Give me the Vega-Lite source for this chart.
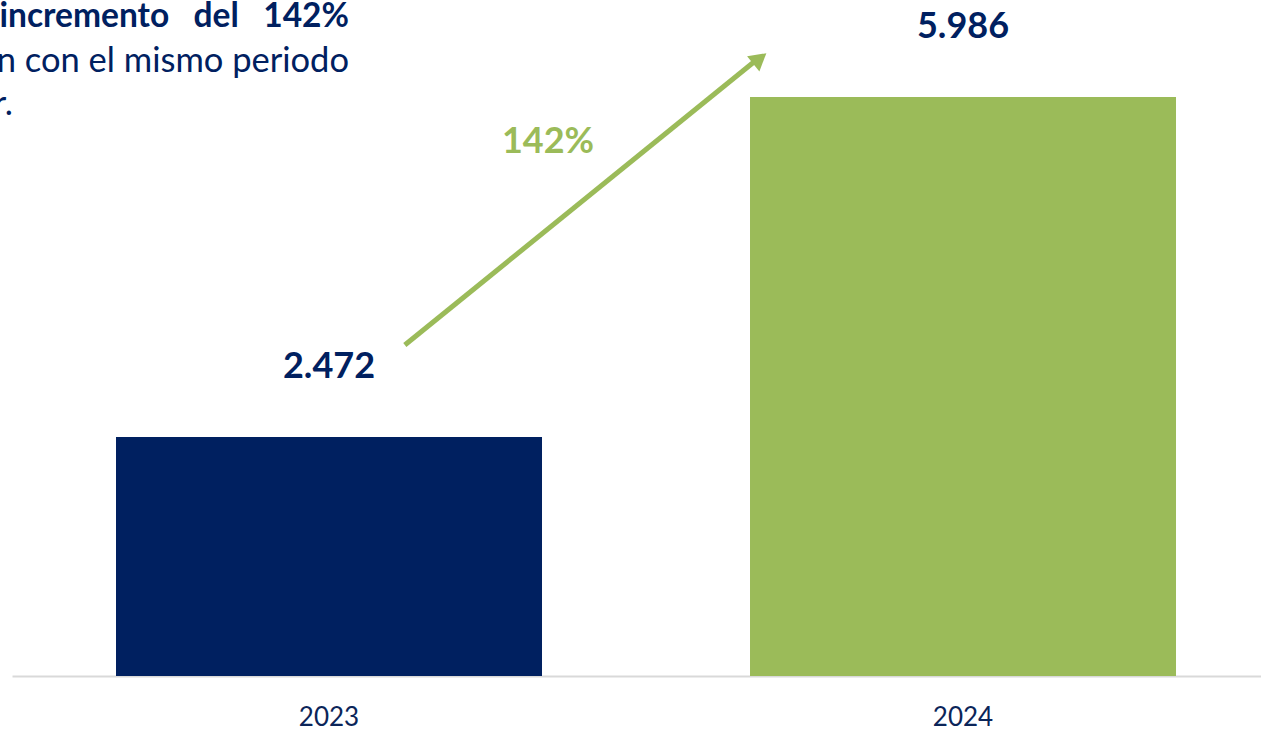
{
  "$schema": "https://vega.github.io/schema/vega-lite/v6.json",
  "width": 1249,
  "height": 676,
  "autosize": {"type": "none"},
  "padding": {"left": 12, "top": 0, "right": 0, "bottom": 54},
  "background": "white",
  "config": {"view": {"stroke": null}, "font": "Lato"},
  "datasets": {
    "bars": [
      {"year": "2023", "value": 2472, "label": "2.472"},
      {"year": "2024", "value": 5986, "label": "5.986"}
    ],
    "arrow": [{"year": "2023", "year2": "2024", "y": 3423, "y2": 6359}],
    "head": [{"year": "2024", "y": 6385}],
    "growth": [{"year": "2023", "y": 5408, "label": "142%"}],
    "line1": [{"year": "2023", "y": 6711, "label": "incremento\u00a0\u00a0\u00a0del\u00a0\u00a0\u00a0142%"}],
    "line2": [{"year": "2023", "y": 6245, "label": "comparación con el mismo periodo"}],
    "line3": [{"year": "2023", "y": 5801, "label": "del año anterior."}]
  },
  "layer": [
    {
      "data": {"name": "bars"},
      "mark": {"type": "bar"},
      "encoding": {
        "x": {
          "field": "year", "type": "nominal", "title": null,
          "scale": {"domain": ["2023", "2024"], "paddingInner": 0.32808, "paddingOuter": 0.14905, "align": 0.5503},
          "axis": {"labelAngle": 0, "labelFont": "Lato", "labelFontSize": 26, "labelColor": "#0B2559", "labelPadding": 28, "labelBaseline": "top", "ticks": false, "domainColor": "#D9D9D9", "domainWidth": 2, "grid": false}
        },
        "y": {"field": "value", "type": "quantitative", "scale": {"domain": [0, 6990], "nice": false}, "axis": null},
        "color": {"field": "year", "type": "nominal", "scale": {"domain": ["2023", "2024"], "range": ["#002060", "#9BBB59"]}, "legend": null}
      }
    },
    {
      "data": {"name": "bars"},
      "mark": {"type": "text", "font": "Lato", "fontSize": 36, "fontWeight": "bold", "color": "#002060", "baseline": "alphabetic", "align": "center", "dy": -59},
      "encoding": {
        "x": {"field": "year", "type": "nominal", "title": null},
        "y": {"field": "value", "type": "quantitative", "axis": null},
        "text": {"field": "label"}
      }
    },
    {
      "data": {"name": "arrow"},
      "mark": {"type": "rule", "color": "#9BBB59", "strokeWidth": 5},
      "encoding": {
        "x": {"field": "year", "type": "nominal", "bandPosition": 0.678, "title": null},
        "x2": {"field": "year2", "bandPosition": 0.012},
        "y": {"field": "y", "type": "quantitative", "axis": null},
        "y2": {"field": "y2"}
      }
    },
    {
      "data": {"name": "head"},
      "mark": {"type": "point", "shape": "triangle-up", "filled": true, "color": "#9BBB59", "opacity": 1, "size": 380, "angle": 51},
      "encoding": {
        "x": {"field": "year", "type": "nominal", "bandPosition": 0.023, "title": null},
        "y": {"field": "y", "type": "quantitative", "axis": null}
      }
    },
    {
      "data": {"name": "growth"},
      "mark": {"type": "text", "font": "Lato", "fontSize": 36, "fontWeight": "bold", "color": "#9BBB59", "baseline": "alphabetic", "align": "center", "dx": 219},
      "encoding": {
        "x": {"field": "year", "type": "nominal", "title": null},
        "y": {"field": "y", "type": "quantitative", "axis": null},
        "text": {"field": "label"}
      }
    },
    {
      "data": {"name": "line1"},
      "mark": {"type": "text", "font": "Lato", "fontSize": 33.5, "fontWeight": "bold", "color": "#002060", "baseline": "alphabetic", "align": "right", "dx": 20},
      "encoding": {
        "x": {"field": "year", "type": "nominal", "title": null},
        "y": {"field": "y", "type": "quantitative", "axis": null},
        "text": {"field": "label"}
      }
    },
    {
      "data": {"name": "line2"},
      "mark": {"type": "text", "font": "Lato", "fontSize": 34.5, "color": "#002060", "baseline": "alphabetic", "align": "right", "dx": 20},
      "encoding": {
        "x": {"field": "year", "type": "nominal", "title": null},
        "y": {"field": "y", "type": "quantitative", "axis": null},
        "text": {"field": "label"}
      }
    },
    {
      "data": {"name": "line3"},
      "mark": {"type": "text", "font": "Lato", "fontSize": 34.5, "color": "#002060", "baseline": "alphabetic", "align": "right", "dx": -316},
      "encoding": {
        "x": {"field": "year", "type": "nominal", "title": null},
        "y": {"field": "y", "type": "quantitative", "axis": null},
        "text": {"field": "label"}
      }
    }
  ]
}
